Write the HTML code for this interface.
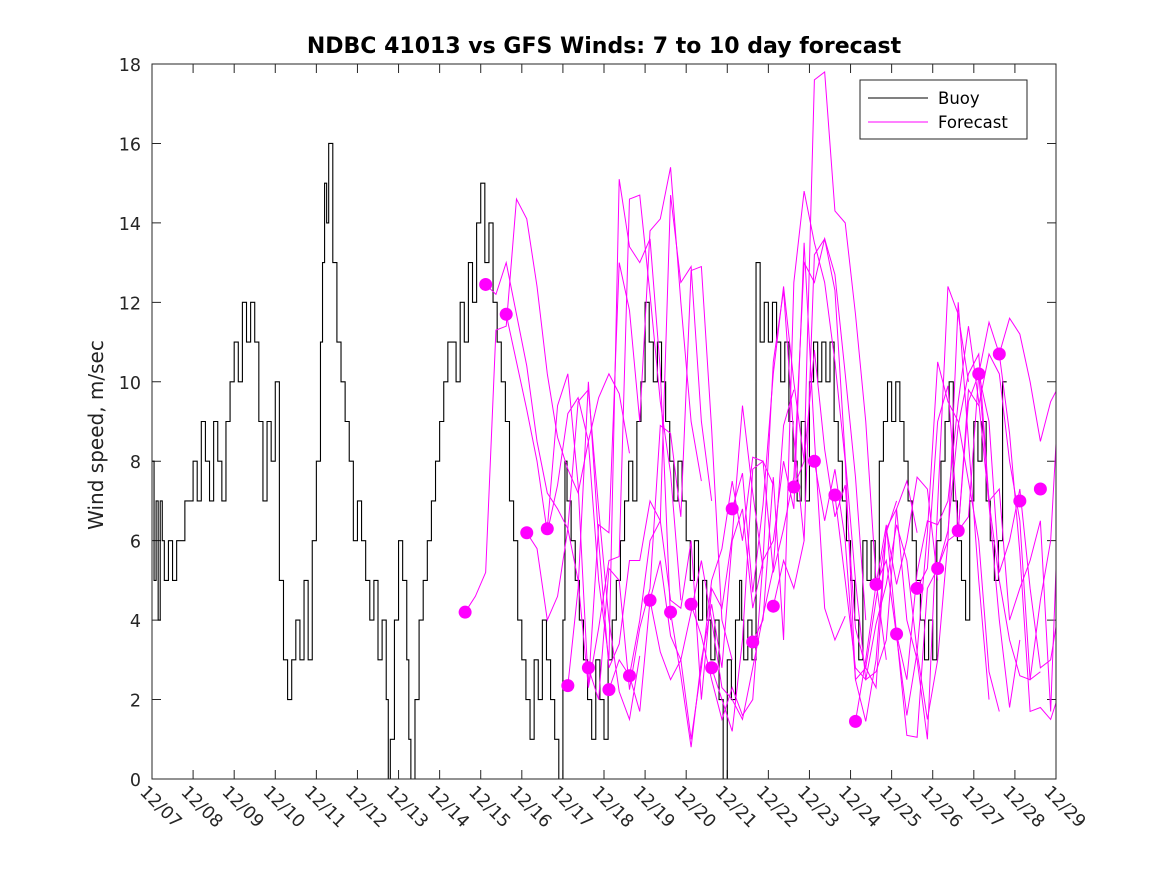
<!DOCTYPE html>
<html><head><meta charset="utf-8">
<style>
html,body{margin:0;padding:0;background:#fff;}
svg{display:block;font-family:"DejaVu Sans","Liberation Sans",sans-serif;}
</style></head>
<body>
<svg id="chart" width="1167" height="875" viewBox="0 0 1167 875" xmlns="http://www.w3.org/2000/svg">
<rect width="1167" height="875" fill="#fff"/>
<text x="604" y="53" text-anchor="middle" font-size="22" font-weight="bold" fill="#000">NDBC 41013 vs GFS Winds: 7 to 10 day forecast</text>
<text transform="translate(103,435) rotate(-90)" text-anchor="middle" font-size="20" fill="#222">Wind speed, m/sec</text>
<defs><clipPath id="pc"><rect x="152" y="64" width="904" height="715"/></clipPath></defs>
<rect x="152" y="64" width="904" height="715" fill="#fff"/>
<g id="ticks"></g>
<g id="series" clip-path="url(#pc)"></g>
<rect x="152" y="64" width="904" height="715" fill="none" stroke="#262626" stroke-width="1"/>
<g>
<rect x="860" y="80" width="167" height="59" fill="#fff" stroke="#262626" stroke-width="1"/>
<line x1="868" y1="98" x2="928" y2="98" stroke="#000" stroke-width="1"/>
<text x="938" y="104" font-size="16.5" fill="#000">Buoy</text>
<line x1="868" y1="122" x2="928" y2="122" stroke="#ff00ff" stroke-width="1"/>
<text x="938" y="128" font-size="16.5" fill="#000">Forecast</text>
</g>
</svg>
<script>
const yTicks=[0,2,4,6,8,10,12,14,16,18];
const xTickLabels=['12/07','12/08','12/09','12/10','12/11','12/12','12/13','12/14','12/15','12/16','12/17','12/18','12/19','12/20','12/21','12/22','12/23','12/24','12/25','12/26','12/27','12/28','12/29'];
const buoyDays=[7,7.05,7.1,7.15,7.2,7.25,7.3,7.4,7.5,7.6,7.7,7.8,8,8.1,8.2,8.3,8.4,8.5,8.6,8.7,8.8,8.9,9,9.1,9.2,9.3,9.4,9.5,9.6,9.7,9.8,9.9,10,10.1,10.2,10.3,10.4,10.5,10.6,10.7,10.8,10.9,11,11.1,11.15,11.2,11.25,11.3,11.4,11.5,11.6,11.7,11.8,11.9,12,12.1,12.2,12.3,12.4,12.5,12.6,12.7,12.75,12.8,12.9,13,13.1,13.2,13.25,13.3,13.4,13.5,13.6,13.7,13.8,13.9,14,14.1,14.2,14.3,14.4,14.5,14.6,14.7,14.8,14.9,15,15.1,15.2,15.3,15.4,15.5,15.6,15.7,15.8,15.9,16,16.1,16.2,16.3,16.4,16.5,16.6,16.7,16.8,16.9,17,17.05,17.1,17.2,17.3,17.4,17.5,17.6,17.7,17.8,17.9,18,18.1,18.2,18.3,18.4,18.5,18.6,18.7,18.8,18.9,19,19.1,19.2,19.3,19.4,19.5,19.6,19.7,19.8,19.9,20,20.1,20.2,20.3,20.4,20.5,20.6,20.7,20.8,20.9,21,21.1,21.2,21.3,21.35,21.4,21.5,21.6,21.7,21.8,21.9,22,22.1,22.2,22.3,22.4,22.5,22.6,22.7,22.8,22.9,23,23.1,23.2,23.3,23.4,23.5,23.6,23.7,23.8,23.9,24,24.1,24.2,24.3,24.4,24.5,24.6,24.7,24.8,24.9,25,25.1,25.2,25.3,25.4,25.5,25.6,25.7,25.8,25.9,26,26.1,26.2,26.3,26.4,26.5,26.6,26.7,26.8,26.9,27,27.1,27.2,27.3,27.4,27.5,27.6,27.7,27.8,27.9,28,28.1,28.2,28.3,28.4,28.5,28.6,28.7,28.8,28.9,29];
const buoyValues=[8,5,7,4,7,6,5,6,5,6,6,7,8,7,9,8,7,9,8,7,9,10,11,10,12,11,12,11,9,7,9,8,10,5,3,2,3,4,3,5,3,6,8,11,13,15,14,16,13,11,10,9,8,6,7,6,5,4,5,3,4,2,0,1,4,6,5,3,1,0,2,4,5,6,7,8,9,10,11,11,10,12,11,13,12,14,15,13,14,12,11,10,9,7,6,4,3,2,1,3,2,4,3,2,1,0,4,8,7,6,5,4,3,2,1,3,2,1,3,4,5,6,7,8,7,9,10,12,11,10,11,10,9,8,7,8,7,6,5,6,4,5,4,3,4,2,0,3,2,4,5,4,3,4,3,13,11,12,11,12,11,10,11,9,8,7,9,7,10,11,10,11,10,11,9,8,7,6,5,4,3,6,5,6,5,8,9,10,9,10,9,8,7,6,5,4,3,4,3,6,8,9,10,7,6,5,4,7,9,8,9,7,6,5,6,10];
const fcStarts=[14.62,15.12,15.62,16.12,16.62,17.12,17.62,18.12,18.62,19.12,19.62,20.12,20.62,21.12,21.62,22.12,22.62,23.12,23.62,24.12,24.62,25.12,25.62,26.12,26.62,27.12,27.62];
const fcValues=[
[4.2,4.6,5.2,11.3,11.4,14.6,14.1,12.4,10.2,8.6,7.8,7.2,8.5,9.6,10.2,9.7,8.2],
[12.45,12.2,13.0,11.7,10.4,8.5,7.2,6.8,6.3,9.5,9.8,6.8,4.0,2.2,1.5,3.1],
[11.7,10.5,9.3,8.0,6.2,7.4,9.2,9.6,8.5,5.0,3.0,15.1,13.4,13.0,13.6,10.3,4.0],
[6.2,5.8,4.0,4.6,6.3,5.0,2.3,3.8,5.5,5.6,14.6,14.7,12.2,9.5,7.7,4.5],
[6.3,9.4,10.2,7.4,2.3,6.4,6.2,13.0,11.8,9.0,13.8,14.1,15.4,12.0,9.0,7.5],
[2.35,4.8,10.0,6.0,2.8,3.4,5.5,5.5,7.0,6.5,14.7,12.5,12.9,9.0,7.0],
[2.8,2.0,5.3,5.0,2.25,3.8,4.8,8.9,8.7,6.6,12.8,12.9,8.8,4.0,3.0],
[2.25,3.0,2.6,4.0,6.0,6.5,4.5,4.3,6.0,2.0,4.8,4.3,6.1,9.4,7.2,5.3],
[2.6,1.7,4.5,5.5,3.6,3.0,1.0,2.8,5.0,5.8,7.5,6.0,8.1,8.0,7.4],
[4.5,3.2,2.5,3.0,4.2,5.5,4.0,2.3,2.0,1.5,2.8,4.1,5.3,8.9,9.8],
[4.2,2.6,0.8,3.0,4.4,2.8,6.0,6.8,4.3,5.5,10.5,12.3,8.6,6.0],
[4.4,3.6,2.5,1.5,2.3,1.6,2.0,5.5,6.0,8.0,6.8,13.5,8.6,4.3,3.5,4.1],
[2.8,2.0,1.2,3.5,7.8,8.0,5.2,6.3,7.6,13.0,12.5,13.6,12.7,10.2,7.6,4.0],
[6.8,7.7,4.7,6.9,10.2,12.4,10.0,8.0,17.6,17.8,14.3,14.0,11.7,9.0,5.0,3.0],
[3.45,4.0,7.6,3.5,12.5,14.8,13.5,12.5,10.5,8.0,2.5,2.8,4.5,6.2,7.0],
[4.35,5.5,4.8,6.0,13.2,13.6,12.3,8.1,5.0,2.5,2.7,3.5,6.8,7.5,6.2],
[7.35,8.0,10.8,8.3,6.6,7.4,3.8,2.8,2.3,6.3,4.9,6.0,7.6,7.3,5.0],
[8.0,6.5,7.8,6.0,2.5,1.45,3.0,6.3,6.8,4.0,3.0,1.0,6.9,12.4,11.7,10.0],
[7.15,5.0,2.8,2.5,3.9,4.9,6.4,5.5,3.2,1.5,3.0,6.0,12.0,8.5,5.0,2.0],
[1.45,3.0,4.9,5.5,3.6,1.6,3.2,6.2,10.5,9.5,9.0,7.5,6.0,2.7,1.7],
[4.9,6.4,3.65,2.5,5.2,6.5,6.4,7.0,9.5,11.4,9.5,6.9,4.0,1.8,3.5],
[3.65,1.1,1.05,4.8,5.3,6.0,6.2,9.8,9.4,10.7,10.2,8.0,6.5,2.5,2.7],
[4.8,5.3,9.0,9.9,6.25,6.6,10.2,11.5,10.7,8.7,5.7,1.7,1.8,1.5,2.3],
[5.3,6.25,8.9,10.2,10.7,7.0,5.0,3.5,2.6,2.5,4.5,6.0,10.7,10.5],
[6.25,9.5,10.2,7.0,7.3,4.0,4.8,5.5,6.5,1.7,8.6,8.2,9.7],
[10.2,9.0,5.2,6.0,7.3,4.8,2.8,3.0,4.6],
[10.7,11.6,11.2,10.0,8.5,9.5,10.0,9.5,7.7,9.2,10.0]
];
const dotValues=[4.2,12.45,11.7,6.2,6.3,2.35,2.8,2.25,2.6,4.5,4.2,4.4,2.8,6.8,3.45,4.35,7.35,8.0,7.15,1.45,4.9,3.65,4.8,5.3,6.25,10.2,10.7,7.0,7.3];
const dotDays=[14.62,15.12,15.62,16.12,16.62,17.12,17.62,18.12,18.62,19.12,19.62,20.12,20.62,21.12,21.62,22.12,22.62,23.12,23.62,24.12,24.62,25.12,25.62,26.12,26.62,27.12,27.62,28.12,28.62];

const NS='http://www.w3.org/2000/svg';
const X0=152,X1=1056,Y0=779,Y1=64;
const xs=d=>X0+(d-7)/22*(X1-X0);
const ys=v=>Y0-v/18*(Y0-Y1);
function mk(tag,attrs,parent){const e=document.createElementNS(NS,tag);for(const k in attrs)e.setAttribute(k,attrs[k]);parent.appendChild(e);return e;}
const tg=document.getElementById('ticks'),sg=document.getElementById('series');
yTicks.forEach(v=>{
  const y=ys(v);
  const l=mk('path',{d:`M${X0},${y}h9M${X1},${y}h-9`,stroke:'#262626','stroke-width':1},tg);
  
  
  const t=mk('text',{x:141,y:y+7,'text-anchor':'end','font-size':17.5,fill:'#262626'},tg);
  t.textContent=v;
  
  
});
xTickLabels.forEach((s,i)=>{
  const x=xs(7+i);
  const l=mk('path',{d:`M${x},${Y0}v-9M${x},${Y1}v9`,stroke:'#262626','stroke-width':1},tg);
  
  
  const t=mk('text',{transform:`translate(${x-13},${Y0+14}) rotate(45)`,'font-size':17.5,fill:'#262626'},tg);
  t.textContent=s;
  
  
});
let d='';
buoyDays.forEach((day,i)=>{
  const x=xs(day),y=ys(buoyValues[i]);
  if(i===0)d+=`M${x},${y}`;else d+=`H${x}V${y}`;
});
d+=`H${xs(29.1)}`;
const bp=mk('path',{d:d,fill:'none',stroke:'#000','stroke-width':1.1},sg);


fcValues.forEach((vals,k)=>{
  const pts=vals.map((v,i)=>`${xs(fcStarts[k]+i*0.25)},${ys(v)}`).join(' ');
  const p=mk('polyline',{points:pts,fill:'none',stroke:'#ff00ff','stroke-width':1},sg);
  
  
});
dotValues.forEach((v,i)=>{
  const c=mk('circle',{cx:xs(dotDays[i]),cy:ys(v),r:6.5,fill:'#ff00ff'},sg);
  
  
});
</script>
</body></html>
